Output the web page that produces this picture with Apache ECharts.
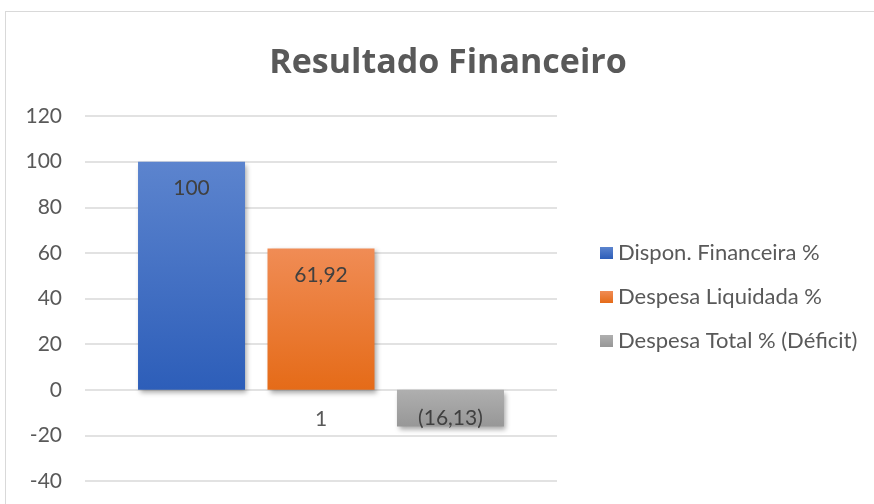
<!DOCTYPE html>
<html>
<head>
<meta charset="utf-8">
<script src="https://cdn.jsdelivr.net/npm/echarts@6/dist/echarts.min.js"></script>
<style>
  html, body { margin: 0; padding: 0; background: #fff; }
  #frame {
    position: absolute; left: 5px; top: 11px; width: 880px; height: 500px;
    border: 1px solid #d9d9d9; box-sizing: border-box;
  }
  #chart { position: absolute; left: 0; top: 0; width: 874px; height: 504px; }
</style>
</head>
<body>
<div id="frame"></div>
<div id="chart"></div>
<script>
const categories = ["1"];
const seriesNames = ["Dispon. Financeira %", "Despesa Liquidada %", "Despesa Total % (Déficit)"];
const dispon = [100];
const liquidada = [61.92];
const deficit = [-16.13];
const yTicks = { min: -40, max: 120, interval: 20 };

const fontFamily = "Lato, 'Open Sans', sans-serif";
const textColor = "#595959";

const grad = (top, bottom) =>
  new echarts.graphic.LinearGradient(0, 0, 0, 1, [
    { offset: 0, color: top },
    { offset: 1, color: bottom },
  ]);

// 12.5 -> "12,5", negatives in parentheses like Excel
const fmt = (v) => {
  const s = Math.abs(v).toString().replace(".", ",");
  return v < 0 ? "(" + s + ")" : s;
};

const shadow = {
  shadowBlur: 5,
  shadowOffsetX: 2,
  shadowOffsetY: 3,
  shadowColor: "rgba(0,0,0,0.35)",
};

const chart = echarts.init(document.getElementById("chart"));
chart.setOption({
  animation: false,
  title: {
    text: "Resultado Financeiro",
    left: 443,
    textAlign: "center",
    top: 41,
    textStyle: { fontFamily: "'Open Sans', Lato, sans-serif", fontSize: 34, fontWeight: "bold", color: textColor },
  },
  legend: {
    orient: "vertical",
    left: 595,
    top: 237,
    itemGap: 22,
    itemWidth: 13,
    itemHeight: 12,
    icon: "rect",
    data: seriesNames,
    textStyle: { fontFamily, fontSize: 22, color: textColor, padding: [0, 0, 0, 0] },
  },
  grid: { left: 85, right: 317, top: 116, bottom: 23, outerBoundsMode: "none" },
  xAxis: {
    type: "category",
    data: categories,
    axisLine: { show: false, onZero: false },
    axisTick: { show: false },
    // axis sits at the grid bottom; pull the category label up under the zero line
    axisLabel: { margin: -72, fontFamily, fontSize: 21, color: textColor },
  },
  yAxis: {
    type: "value",
    min: yTicks.min,
    max: yTicks.max,
    interval: yTicks.interval,
    axisLine: { show: false },
    axisTick: { show: false },
    splitLine: { lineStyle: { color: "#d9d9d9", width: 1.5 } },
    axisLabel: { margin: 23, fontFamily, fontSize: 21, color: textColor },
  },
  series: [
    {
      name: seriesNames[0],
      type: "bar",
      data: dispon,
      barWidth: 107,
      barGap: "21%",
      itemStyle: { color: grad("#5c84ce", "#2d5eb9"), ...shadow },
      label: {
        show: true, position: "insideTop", distance: 16,
        fontFamily, fontSize: 21, color: "#404040",
        formatter: (p) => fmt(p.value),
      },
    },
    {
      name: seriesNames[1],
      type: "bar",
      data: liquidada,
      barWidth: 107,
      barGap: "21%",
      itemStyle: { color: grad("#f08c55", "#e56b18"), ...shadow },
      label: {
        show: true, position: "insideTop", distance: 16,
        fontFamily, fontSize: 21, color: "#404040",
        formatter: (p) => fmt(p.value),
      },
    },
    {
      name: seriesNames[2],
      type: "bar",
      data: deficit,
      barWidth: 107,
      barGap: "21%",
      itemStyle: { color: grad("#afafaf", "#979797"), ...shadow },
      label: {
        show: true, position: "insideBottom", distance: -2,
        fontFamily, fontSize: 21, color: "#404040",
        formatter: (p) => fmt(p.value),
      },
    },
  ],
});
</script>
</body>
</html>
